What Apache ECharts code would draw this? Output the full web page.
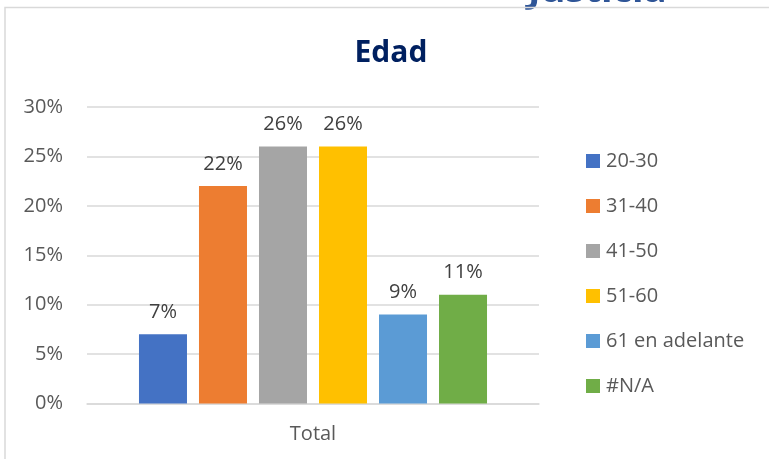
<!DOCTYPE html>
<html>
<head>
<meta charset="utf-8">
<script src="https://cdn.jsdelivr.net/npm/echarts@6/dist/echarts.min.js"></script>
<style>
html,body{margin:0;padding:0;background:#fff;}
#chart{width:769px;height:459px;}
</style>
</head>
<body>
<div id="chart"></div>
<script>
const categories = ['Total'];
const seriesNames = ['20-30', '31-40', '41-50', '51-60', '61 en adelante', '#N/A'];
const seriesValues = [7, 22, 26, 26, 9, 11];
const seriesColors = ['#4472C4', '#ED7D31', '#A5A5A5', '#FFC000', '#5B9BD5', '#70AD47'];
const yTicks = [0, 5, 10, 15, 20, 25, 30];
const titleText = 'Edad';
const headerText = 'Justicia';

const FONT = '"Open Sans", "Noto Sans", sans-serif';
const chart = echarts.init(document.getElementById('chart'), null, {renderer: 'canvas'});

const series = seriesNames.map((name, i) => ({
  name: name,
  type: 'bar',
  data: [seriesValues[i]],
  itemStyle: {color: seriesColors[i]},
  barGap: '25%',
  barCategoryGap: '23%',
  label: {
    show: true,
    position: 'top',
    distance: 12,
    formatter: p => p.value + '%',
    color: '#404040',
    fontFamily: FONT,
    fontSize: 20
  }
}));

chart.setOption({
  animation: false,
  backgroundColor: '#ffffff',
  grid: {left: 87, right: 230, top: 107, bottom: 55.5, containLabel: false},
  legend: {
    orient: 'vertical',
    left: 581,
    top: 146,
    itemWidth: 14,
    itemHeight: 14,
    itemGap: 25,
    icon: 'rect',
    data: seriesNames,
    textStyle: {color: '#595959', fontFamily: FONT, fontSize: 20, lineHeight: 20, padding: [0,0,0,1]}
  },
  xAxis: {
    type: 'category',
    data: categories,
    axisLine: {lineStyle: {color: '#d9d9d9', width: 1.5}},
    axisTick: {show: false},
    axisLabel: {color: '#595959', fontFamily: FONT, fontSize: 20, margin: 21}
  },
  yAxis: {
    type: 'value',
    min: yTicks[0],
    max: yTicks[yTicks.length - 1],
    interval: yTicks[1] - yTicks[0],
    axisLine: {show: false},
    axisTick: {show: false},
    splitLine: {lineStyle: {color: '#d9d9d9', width: 1.5}},
    axisLabel: {color: '#595959', fontFamily: FONT, fontSize: 20, margin: 24, formatter: v => v + '%'}
  },
  graphic: [
    {type: 'text', x: 528, y: 10.5, style: {text: headerText, fill: '#2F5597', font: 'bold 38px ' + FONT, textAlign: 'left', textVerticalAlign: 'bottom'}},
    {type: 'rect', shape: {x: 5, y: 7.5, width: 820, height: 520}, style: {fill: 'none', stroke: '#d9d9d9', lineWidth: 1.5}, silent: true},
    {type: 'text', x: 391, y: 53, style: {text: titleText, fill: '#002060', font: 'bold 30px ' + FONT, textAlign: 'center', textVerticalAlign: 'middle'}}
  ],
  series: series
});
</script>
</body>
</html>
